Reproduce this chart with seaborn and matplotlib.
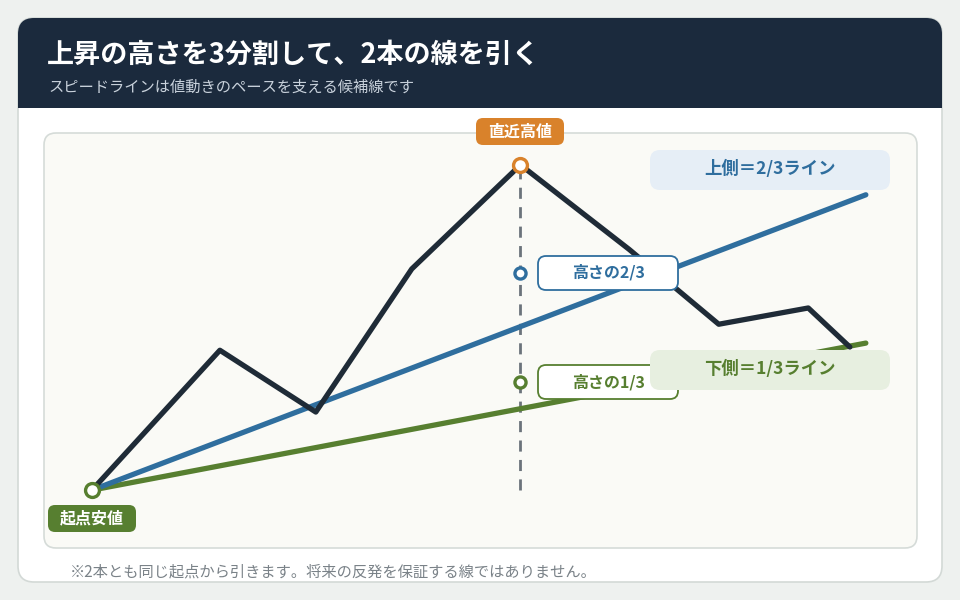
import matplotlib
matplotlib.use("Agg")
import matplotlib.pyplot as plt
import seaborn as sns
import pandas as pd
from matplotlib.patches import FancyBboxPatch

# ---- data ----
days = [0, 4, 7, 10, 13.4, 16.8, 19.6, 22.4, 23.7]
price = [100, 143, 124, 168, 200, 174, 151, 156, 144]
line_days = [0, 24.2]
upper_line = [100, 190.8]   # 2/3 line
lower_line = [100, 145.2]   # 1/3 line
low, high = 100, 200
peak_day = 13.4

title = "上昇の高さを3分割して、2本の線を引く"
subtitle = "スピードラインは値動きのペースを支える候補線です"
footnote = "※2本とも同じ起点から引きます。将来の反発を保証する線ではありません。"

sns.set_theme(style="white")
plt.rcParams['font.family'] = ['Noto Sans CJK JP', 'DejaVu Sans']

NAVY = "#1b2a3d"; BLUE = "#2f6e9e"; GREEN = "#577f30"; ORANGE = "#d9822b"; DARK = "#1f2b37"

fig = plt.figure(figsize=(9.6, 6), dpi=100)
fig.patch.set_facecolor("#eef1ef")
bg = fig.add_axes([0, 0, 1, 1]); bg.set_xlim(0, 960); bg.set_ylim(600, 0); bg.axis("off")

def rbox(x0, y0, x1, y1, fc, ec="none", lw=1.0, r=10, z=1, ax=bg):
    p = FancyBboxPatch((x0, y0), x1 - x0, y1 - y0, boxstyle=f"round,pad=0,rounding_size={r}",
                       fc=fc, ec=ec, lw=lw, zorder=z, mutation_aspect=1)
    ax.add_patch(p)

rbox(18, 18, 942, 582, "white", "#d3d9d6", 1.2, r=16)
rbox(18, 18, 942, 108, NAVY, r=16, z=2)
bg.add_patch(plt.Rectangle((18, 80), 924, 28, fc=NAVY, ec="none", zorder=2))
bg.text(47, 55, title, color="white", fontsize=19.5, fontweight="bold", va="center", zorder=3)
bg.text(48, 87, subtitle, color="#c9d2dc", fontsize=11, va="center", zorder=3)
rbox(44, 133, 917, 548, "#fafaf6", "#d5dbd8", 1.2, r=12)
bg.text(70, 572, footnote, color="#7a8288", fontsize=11, va="center")

# ---- data axes over the panel ----
ax = fig.add_axes([44/960, 1-548/600, (917-44)/960, (548-133)/600])
ax.patch.set_alpha(0); ax.axis("off")
ax.set_xlim(-1.5, 25.8); ax.set_ylim(82.2, 209.8)

ax.plot([peak_day, peak_day], [low, high], color="#6b737b", lw=2, ls=(0, (4, 3)), zorder=2)
sns.lineplot(x=line_days, y=lower_line, ax=ax, color=GREEN, lw=3.8, zorder=3)
sns.lineplot(x=line_days, y=upper_line, ax=ax, color=BLUE, lw=3.8, zorder=3)
sns.lineplot(x=days, y=price, ax=ax, color=DARK, lw=3.8, zorder=4, sort=False)

h23 = low + (high - low) * 2 / 3
h13 = low + (high - low) / 3
for yv, c in [(high, ORANGE), (low, GREEN), (h23, BLUE), (h13, GREEN)]:
    px = 0 if (yv == low) else peak_day
    ax.plot([px], [yv], marker="o", ms=10 if yv in (high, low) else 8, mfc="white", mec=c, mew=2.4, zorder=6)

# labels (pixel overlay on top)
top = fig.add_axes([0, 0, 1, 1]); top.set_xlim(0, 960); top.set_ylim(600, 0); top.axis("off"); top.patch.set_alpha(0)
rbox(476, 118, 564, 145, ORANGE, r=7, ax=top, z=5)
top.text(520, 131.5, "直近高値", color="white", fontsize=11.5, fontweight="bold", ha="center", va="center", zorder=6)
rbox(48, 505, 136, 532, GREEN, r=7, ax=top, z=5)
top.text(92, 518.5, "起点安値", color="white", fontsize=11.5, fontweight="bold", ha="center", va="center", zorder=6)
rbox(538, 256, 678, 290, "white", BLUE, 1.3, r=8, ax=top, z=5)
top.text(608, 272, "高さの2/3", color=BLUE, fontsize=11.5, fontweight="bold", ha="center", va="center", zorder=6)
rbox(538, 365, 678, 399, "white", GREEN, 1.3, r=8, ax=top, z=5)
top.text(608, 382, "高さの1/3", color=GREEN, fontsize=11.5, fontweight="bold", ha="center", va="center", zorder=6)
rbox(650, 150, 890, 190, "#e6eef6", r=10, ax=top, z=7)
top.text(770, 169, "上側＝2/3ライン", color=BLUE, fontsize=12.5, fontweight="bold", ha="center", va="center", zorder=8)
rbox(650, 350, 890, 390, "#e7efe0", r=10, ax=top, z=7)
top.text(770, 369, "下側＝1/3ライン", color=GREEN, fontsize=12.5, fontweight="bold", ha="center", va="center", zorder=8)

fig.savefig("out.png", dpi=100)
